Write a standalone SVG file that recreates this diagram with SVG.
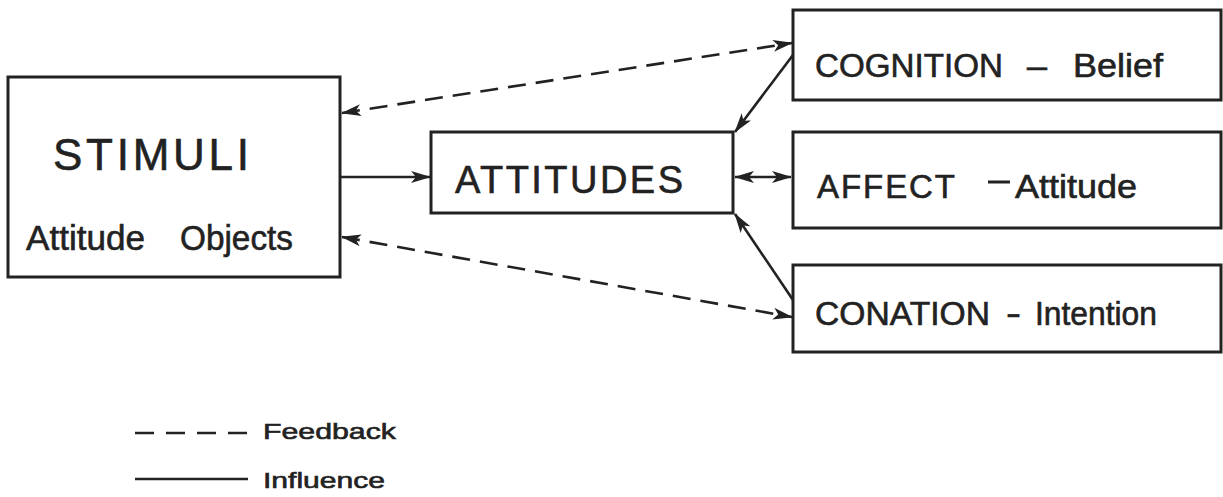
<svg xmlns="http://www.w3.org/2000/svg" width="1223" height="497" viewBox="0 0 1223 497">
<style>
.box{fill:#fff;stroke:#222;stroke-width:3}
.t{font-family:"Liberation Sans",Arial,sans-serif;fill:#222;stroke:#222;stroke-width:0.6}
.ln{stroke:#222;stroke-width:2.6;fill:none}
.dash{stroke-dasharray:18 10}
</style>
<defs>
<marker id="ah" viewBox="0 0 20 12" refX="19" refY="6" markerWidth="20" markerHeight="12" markerUnits="userSpaceOnUse" orient="auto-start-reverse">
<path d="M0,0 L20,6 L0,12 L5,6 Z" fill="#222"/>
</marker>
</defs>
<rect width="1223" height="497" fill="#fff"/>
<g id="connectors">
<line class="ln" x1="341" y1="177" x2="430" y2="177" marker-end="url(#ah)"/>
<line class="ln dash" x1="342" y1="113" x2="792" y2="43" marker-start="url(#ah)" marker-end="url(#ah)"/>
<line class="ln dash" x1="342" y1="237" x2="792" y2="317" marker-start="url(#ah)" marker-end="url(#ah)"/>
<line class="ln" x1="793" y1="55" x2="735" y2="132" marker-end="url(#ah)"/>
<line class="ln" x1="793" y1="300" x2="735" y2="214" marker-end="url(#ah)"/>
<line class="ln" x1="735" y1="177" x2="791" y2="177" marker-start="url(#ah)" marker-end="url(#ah)"/>
</g>
<g id="stimuli">
<rect class="box" x="8" y="77" width="332" height="200"/>
<text class="t" x="53" y="170" font-size="44" textLength="196" lengthAdjust="spacing">STIMULI</text>
<text class="t" x="26" y="250" font-size="35" textLength="119" lengthAdjust="spacingAndGlyphs">Attitude</text>
<text class="t" x="180" y="250" font-size="35" textLength="113" lengthAdjust="spacingAndGlyphs">Objects</text>
</g>
<g id="attitudes">
<rect class="box" x="431" y="132" width="302" height="81"/>
<text class="t" x="455" y="193" font-size="38" textLength="228" lengthAdjust="spacing">ATTITUDES</text>
</g>
<g id="cognition">
<rect class="box" x="793" y="10" width="428" height="90"/>
<text class="t" x="815" y="77" font-size="33" textLength="188" lengthAdjust="spacingAndGlyphs">COGNITION</text>
<text class="t" x="1027" y="77" font-size="33" textLength="20" lengthAdjust="spacingAndGlyphs">–</text>
<text class="t" x="1073" y="77" font-size="33" textLength="90" lengthAdjust="spacingAndGlyphs">Belief</text>
</g>
<g id="affect">
<rect class="box" x="793" y="132" width="428" height="96"/>
<text class="t" x="817" y="198" font-size="33" textLength="138" lengthAdjust="spacing">AFFECT</text>
<line x1="988" y1="182" x2="1010" y2="182" stroke="#222" stroke-width="3"/>
<text class="t" x="1015" y="198" font-size="33" textLength="122" lengthAdjust="spacingAndGlyphs">Attitude</text>
</g>
<g id="conation">
<rect class="box" x="793" y="265" width="428" height="87"/>
<text class="t" x="815" y="325" font-size="33" textLength="175" lengthAdjust="spacingAndGlyphs">CONATION</text>
<text class="t" x="1006" y="325" font-size="33" textLength="15" lengthAdjust="spacingAndGlyphs">-</text>
<text class="t" x="1035" y="325" font-size="33" textLength="122" lengthAdjust="spacingAndGlyphs">Intention</text>
</g>
<g id="legend">
<line class="ln" x1="135" y1="433" x2="248" y2="433" stroke-dasharray="19 12"/>
<text class="t" x="263" y="439" font-size="22" textLength="133" lengthAdjust="spacingAndGlyphs">Feedback</text>
<line class="ln" x1="135" y1="479" x2="248" y2="479"/>
<text class="t" x="263" y="488" font-size="22" textLength="122" lengthAdjust="spacingAndGlyphs">Influence</text>
</g>
</svg>
